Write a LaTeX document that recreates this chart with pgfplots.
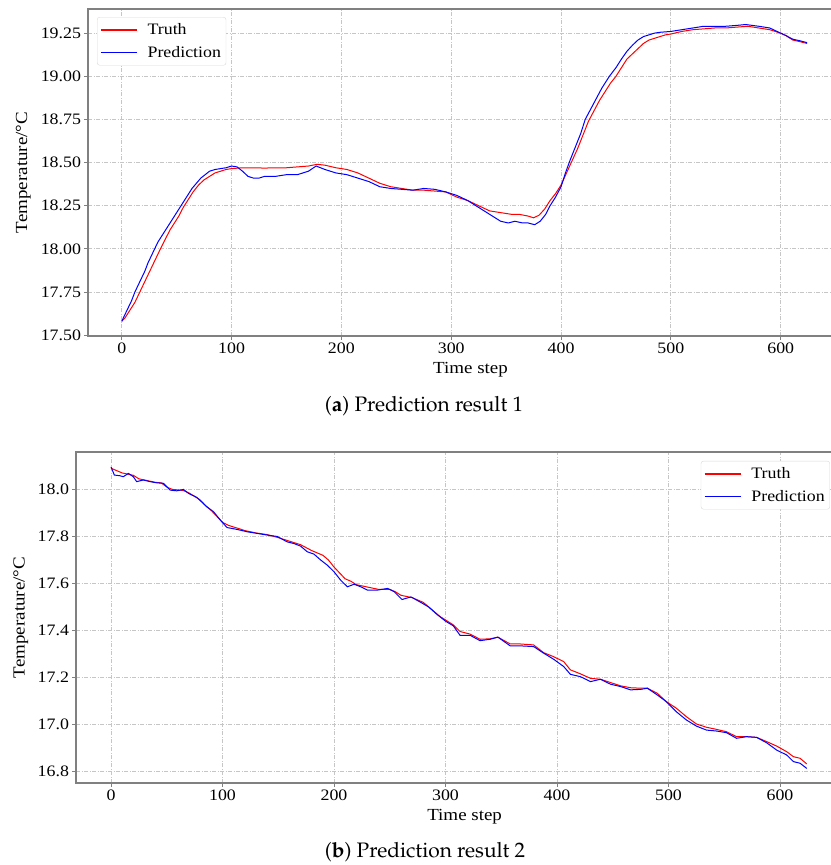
\documentclass[border=0pt]{standalone}
\usepackage[T1]{fontenc}
\usepackage{fontspec}
\setmainfont{Liberation Serif}[FakeStretch=1.12]
\usepackage{pgfplots}
\pgfplotsset{compat=1.18}

\pgfplotstableread{
t v
0 17.58
3 17.60
6 17.63
9 17.66
12 17.69
15 17.73
18 17.77
21 17.81
24 17.85
27 17.89
30 17.93
33 17.97
36 18.01
40 18.06
44 18.11
48 18.15
52 18.19
56 18.24
60 18.28
65 18.33
70 18.37
75 18.40
80 18.42
85 18.44
90 18.45
95 18.46
100 18.465
110 18.47
120 18.47
130 18.468
140 18.47
150 18.47
160 18.475
170 18.48
178 18.49
185 18.485
195 18.47
205 18.46
215 18.44
225 18.41
235 18.38
245 18.36
255 18.35
265 18.34
275 18.34
285 18.335
295 18.33
305 18.30
315 18.28
325 18.25
335 18.22
345 18.21
355 18.20
362 18.20
370 18.19
375 18.18
380 18.195
385 18.23
390 18.28
395 18.32
400 18.37
405 18.44
410 18.51
415 18.58
420 18.66
425 18.74
430 18.80
435 18.86
440 18.91
445 18.96
450 19.00
455 19.05
460 19.10
465 19.13
470 19.16
475 19.19
480 19.21
485 19.22
490 19.23
495 19.24
500 19.245
510 19.26
520 19.27
530 19.275
540 19.28
550 19.28
560 19.285
570 19.29
580 19.28
590 19.27
600 19.25
605 19.235
611 19.21
618 19.20
624 19.19
}\truthA

\pgfplotstableread{
t v
0 17.58
3 17.62
6 17.66
9 17.70
12 17.75
15 17.79
18 17.83
21 17.87
24 17.92
27 17.96
30 18.00
33 18.04
36 18.07
40 18.11
44 18.15
48 18.19
52 18.23
56 18.27
60 18.31
64 18.35
68 18.38
72 18.41
76 18.43
80 18.45
85 18.46
90 18.465
95 18.47
100 18.48
105 18.475
110 18.45
115 18.42
120 18.41
125 18.41
130 18.42
140 18.42
150 18.43
160 18.43
170 18.45
177 18.48
185 18.46
195 18.44
205 18.43
215 18.41
225 18.39
235 18.36
245 18.35
255 18.345
265 18.34
275 18.35
285 18.345
295 18.33
305 18.31
315 18.28
325 18.24
335 18.20
345 18.16
352 18.15
358 18.16
365 18.15
370 18.15
376 18.14
381 18.16
386 18.20
390 18.25
395 18.30
400 18.36
404 18.44
408 18.51
413 18.59
418 18.67
422 18.75
427 18.81
432 18.87
437 18.93
444 19.00
450 19.05
455 19.10
460 19.145
465 19.18
470 19.21
475 19.23
480 19.24
485 19.25
490 19.255
500 19.26
510 19.27
520 19.28
530 19.29
540 19.29
550 19.29
560 19.295
568 19.30
580 19.29
590 19.28
600 19.25
605 19.235
611 19.215
618 19.205
624 19.195
}\predA

\pgfplotstableread{
t v
0 18.09
5 18.08
10 18.07
15 18.065
20 18.06
25 18.045
30 18.04
35 18.035
40 18.03
45 18.028
50 18.01
55 18.0
60 17.998
65 17.995
70 17.985
75 17.97
80 17.955
85 17.93
90 17.91
95 17.885
100 17.86
105 17.848
110 17.84
115 17.833
120 17.825
130 17.815
140 17.808
150 17.795
160 17.78
170 17.765
180 17.74
190 17.72
195 17.70
200 17.67
205 17.645
210 17.62
215 17.61
220 17.595
230 17.585
240 17.575
250 17.575
255 17.565
260 17.55
270 17.54
280 17.52
285 17.50
290 17.48
295 17.46
300 17.445
307 17.424
313 17.396
322 17.385
331 17.363
340 17.365
347 17.372
358 17.343
367 17.343
379 17.339
388 17.306
397 17.289
406 17.268
412 17.233
421 17.216
430 17.197
439 17.193
448 17.179
457 17.165
466 17.157
475 17.155
481 17.155
490 17.133
498 17.098
507 17.07
516 17.034
525 17.003
534 16.989
543 16.98
552 16.97
561 16.949
570 16.949
579 16.946
588 16.928
597 16.909
606 16.885
612 16.864
618 16.857
624 16.833
}\truthB

\pgfplotstableread{
t v
0 18.096
3 18.061
8 18.058
11 18.054
15.6 18.068
20 18.054
23 18.033
29 18.04
35 18.033
41 18.028
47 18.026
53 17.997
59 17.994
65 18.0
69.5 17.983
77 17.966
86 17.926
92 17.905
98 17.87
104 17.838
113 17.83
122 17.82
131 17.813
140 17.806
149 17.80
158 17.777
164 17.77
170 17.759
176 17.735
182 17.725
188 17.70
194 17.678
200 17.65
206 17.614
212 17.586
218 17.597
224 17.586
230 17.572
239 17.572
248 17.579
254 17.565
261 17.532
269 17.543
277 17.522
285 17.50
292 17.47
300 17.44
307 17.42
313 17.38
322 17.38
331 17.357
340 17.363
347 17.372
358 17.335
367 17.335
379 17.332
388 17.304
397 17.278
406 17.247
412 17.214
421 17.204
430 17.183
439 17.193
448 17.172
457 17.162
466 17.148
475 17.15
481 17.155
490 17.126
498 17.098
507 17.055
516 17.02
525 16.994
534 16.977
543 16.973
552 16.966
561 16.942
570 16.949
579 16.946
588 16.923
597 16.892
606 16.871
612 16.843
618 16.836
624 16.814
}\predB

\pgfplotsset{
  mystyle/.style={
    scale only axis,
    axis line style={draw=gray, line width=1.1bp},
    grid=major,
    grid style={draw=gray!45, line width=0.8bp, dash pattern=on 4bp off 1.5bp on 1bp off 1.5bp},
    tick align=outside,
    tickpos=left,
    major tick length=3.5bp,
    tick style={draw=gray, line width=0.8bp},
    ticklabel style={font=\fontsize{16}{18}\selectfont},
    /pgf/number format/assume math mode=true,
    xtick={0,100,200,300,400,500,600},
    every axis x label/.style={at={(axis description cs:0.508,0)}, anchor=center, yshift=-34bp,
      font=\fontsize{17}{19}\selectfont},
    xlabel={Time step},
    ylabel={Temperature/°C},
    legend cell align=left,
    legend image code/.code={\draw[##1, line width=1.4bp] (0bp,0bp) -- (36bp,0bp);},
    legend style={draw=black!15, rounded corners=2.5bp, font=\fontsize{16}{18}\selectfont,
      inner xsep=3bp, inner ysep=4.5bp, row sep=6bp},
  },
}

\begin{document}
\begin{tikzpicture}
\path[use as bounding box] (0,0) rectangle (831bp,-865bp);

\begin{axis}[mystyle,
  at={(88bp,-9bp)}, anchor=north west,
  width=753bp, height=327bp,
  xmin=-30.7, xmax=654.9,
  ymin=17.495, ymax=19.39,
  ytick={17.5,17.75,18,18.25,18.5,18.75,19,19.25},
  yticklabel style={/pgf/number format/.cd, fixed, fixed zerofill, precision=2},
  every axis y label/.style={at={(axis description cs:-0.086,0.5)}, rotate=90, anchor=center,
      font=\fontsize{17}{19}\selectfont},
  legend style={at={(axis description cs:0.012,0.9755)}, anchor=north west},
]
\addplot[red, line width=1bp] table[x=t, y=v] {\truthA};
\addlegendentry{\hspace{8bp}Truth}
\addplot[blue, line width=1bp] table[x=t, y=v] {\predA};
\addlegendentry{\hspace{8bp}Prediction}
\end{axis}

\begin{axis}[mystyle,
  at={(76bp,-452bp)}, anchor=north west,
  width=765bp, height=331bp,
  xmin=-31.4, xmax=654.7,
  ymin=16.752, ymax=18.159,
  ytick={16.8,17.0,17.2,17.4,17.6,17.8,18.0},
  yticklabel style={/pgf/number format/.cd, fixed, fixed zerofill, precision=1},
  every axis y label/.style={at={(axis description cs:-0.072,0.5)}, rotate=90, anchor=center,
      font=\fontsize{17}{19}\selectfont},
  legend style={at={(axis description cs:0.9856,0.973)}, anchor=north east},
]
\addplot[red, line width=1bp] table[x=t, y=v] {\truthB};
\addlegendentry{\hspace{8bp}Truth}
\addplot[blue, line width=1bp] table[x=t, y=v] {\predB};
\addlegendentry{\hspace{8bp}Prediction}
\end{axis}

\node[font=\usefont{T1}{ppl}{m}{n}\fontsize{21}{24}\selectfont] at (424bp,-406bp) {(\textbf{a}) Prediction result 1};
\node[font=\usefont{T1}{ppl}{m}{n}\fontsize{21}{24}\selectfont] at (425bp,-852bp) {(\textbf{b}) Prediction result 2};
\end{tikzpicture}
\end{document}
